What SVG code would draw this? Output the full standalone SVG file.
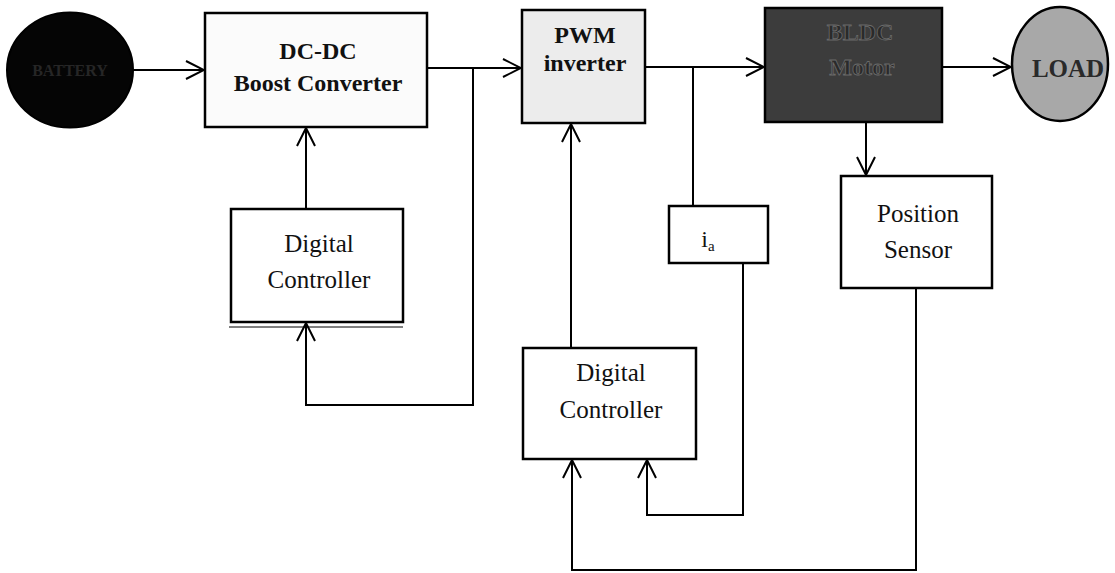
<svg xmlns="http://www.w3.org/2000/svg" width="1115" height="573" viewBox="0 0 1115 573">
<defs>
<marker id="arr" viewBox="0 0 20 20" refX="19" refY="10" markerWidth="20" markerHeight="20" markerUnits="userSpaceOnUse" orient="auto">
<path d="M1,1 L19,10 L1,19" fill="none" stroke="#000" stroke-width="2"/>
</marker>
<style>
.box{stroke:#000;stroke-width:2.5;fill:#fff}
.ln{stroke:#000;stroke-width:2;fill:none}
.t{font-family:"Liberation Serif","Times New Roman",serif;text-anchor:middle;fill:#111}
.b{font-weight:bold;font-size:24px}
.r{font-size:25px}
</style>
</defs>
<rect width="1115" height="573" fill="#fff"/>
<g id="battery">
<ellipse cx="70" cy="70" rx="63" ry="57.5" fill="#050505" stroke="#000" stroke-width="2"/>
<text class="t" x="70" y="76" font-size="16" font-weight="bold" fill="#262626" style="fill:#262626">BATTERY</text>
</g>
<g id="boost">
<rect class="box" x="205" y="13" width="222" height="114" style="fill:#fbfbfb"/>
<text class="t b" x="318" y="59">DC-DC</text>
<text class="t b" x="318" y="91">Boost Converter</text>
</g>
<g id="pwm">
<rect class="box" x="522" y="10" width="123" height="113" style="fill:#ececec"/>
<text class="t b" x="585" y="43">PWM</text>
<text class="t b" x="585" y="71">inverter</text>
</g>
<g id="bldc">
<rect class="box" x="765" y="8" width="177" height="114" style="fill:#3c3c3c"/>
<text class="t b" x="860" y="40" style="fill:#2a2a2a" stroke="#6a6a6a" stroke-width="0.8">BLDC</text>
<text class="t b" x="862" y="75" style="fill:#2a2a2a" stroke="#6a6a6a" stroke-width="0.8">Motor</text>
</g>
<g id="load">
<ellipse cx="1060" cy="64" rx="48" ry="57" fill="#a8a8a8" stroke="#000" stroke-width="2.5"/>
<text class="t" x="1068" y="77" font-size="25" font-weight="bold" style="fill:#2a2a2a">LOAD</text>
</g>
<g id="controller1">
<rect class="box" x="231" y="209" width="172" height="113"/>
<line x1="229" y1="327" x2="403" y2="327" stroke="#000" stroke-width="1"/>
<text class="t r" x="319" y="252">Digital</text>
<text class="t r" x="319" y="288">Controller</text>
</g>
<g id="current">
<rect class="box" x="669" y="206" width="99" height="57"/>
<text class="t" x="708" y="247" font-size="24">i<tspan font-size="15" dy="4">a</tspan></text>
</g>
<g id="position">
<rect class="box" x="841" y="176" width="151" height="112"/>
<text class="t r" x="918" y="222">Position</text>
<text class="t r" x="918" y="258">Sensor</text>
</g>
<g id="controller2">
<rect class="box" x="523" y="348" width="173" height="111"/>
<text class="t r" x="611" y="381">Digital</text>
<text class="t r" x="611" y="418">Controller</text>
</g>
<g id="connectors">
<line class="ln" x1="133" y1="70" x2="204" y2="70" marker-end="url(#arr)"/>
<line class="ln" x1="427" y1="68" x2="521" y2="68" marker-end="url(#arr)"/>
<polyline class="ln" points="473,68 473,405 306,405 306,323" marker-end="url(#arr)"/>
<line class="ln" x1="306" y1="209" x2="306" y2="128" marker-end="url(#arr)"/>
<line class="ln" x1="645" y1="67" x2="764" y2="67" marker-end="url(#arr)"/>
<line class="ln" x1="693" y1="67" x2="693" y2="206"/>
<polyline class="ln" points="743,263 743,515 647,515 647,460" marker-end="url(#arr)"/>
<polyline class="ln" points="916,288 916,570 572,570 572,460" marker-end="url(#arr)"/>
<line class="ln" x1="571" y1="348" x2="571" y2="124" marker-end="url(#arr)"/>
<line class="ln" x1="942" y1="67" x2="1011" y2="67" marker-end="url(#arr)"/>
<line class="ln" x1="866" y1="122" x2="866" y2="175" marker-end="url(#arr)"/>
</g>
</svg>
